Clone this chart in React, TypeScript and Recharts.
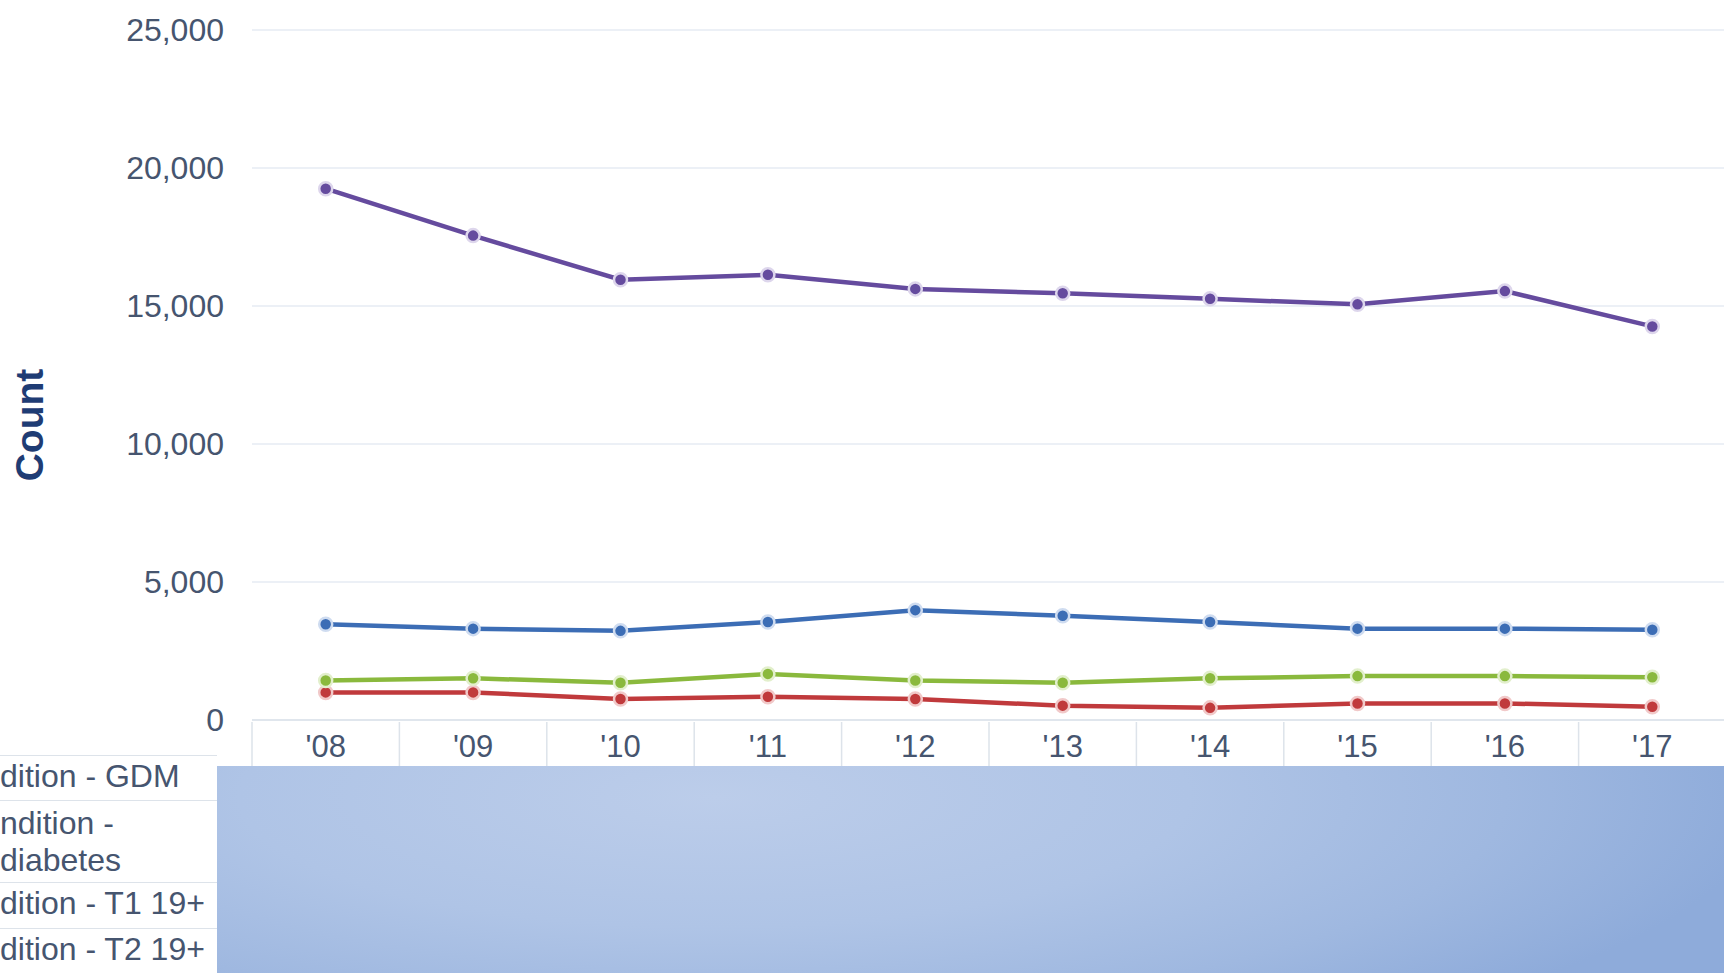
import { LineChart, Line, XAxis, YAxis, CartesianGrid } from 'recharts'

const years = ["'08", "'09", "'10", "'11", "'12", "'13", "'14", "'15", "'16", "'17"]
const gdm = [19250, 17550, 15950, 16130, 15620, 15460, 15260, 15060, 15540, 14260]
const t2 = [3470, 3310, 3230, 3550, 3980, 3780, 3550, 3310, 3310, 3270]
const prediabetes = [1430, 1510, 1350, 1670, 1430, 1350, 1510, 1590, 1590, 1550]
const t1 = [1000, 1000, 760, 840, 760, 520, 440, 600, 600, 480]
const yTicks = [0, 5000, 10000, 15000, 20000, 25000]
// the table on the left is cut by the picture's edge, so only these parts show
const rowLabels = ['dition - GDM', 'ndition -', 'diabetes', 'dition - T1 19+', 'dition - T2 19+']

const data = years.map((year, i) => ({
  year,
  gdm: gdm[i],
  t2: t2[i],
  prediabetes: prediabetes[i],
  t1: t1[i],
}))

const W = 1726
const PLOT_LEFT = 252
const BAND = (W - PLOT_LEFT) / years.length
const FONT = '"Liberation Sans", Arial, sans-serif'
const TEXT = '#46556f'
const CELL_LINE = '#dde3ea'

const XTick = (props: any) => {
  const { x, y, index } = props
  const left = x - BAND / 2
  return (
    <g>
      <line x1={left} x2={left} y1={y + 2} y2={y + 46} stroke={CELL_LINE} strokeWidth={1.5} />
      {index === years.length - 1 && (
        <line x1={left + BAND} x2={left + BAND} y1={y + 2} y2={y + 46} stroke={CELL_LINE} strokeWidth={1.5} />
      )}
      <text x={x} y={y + 37} textAnchor='middle' fill={TEXT} fontSize={31} fontFamily={FONT}>
        {props.payload.value}
      </text>
    </g>
  )
}

const series = [
  { key: 't1', color: '#c03a3c', ring: '#f1c9c9' },
  { key: 'prediabetes', color: '#8ab93d', ring: '#e2efcc' },
  { key: 't2', color: '#3c6db5', ring: '#cfdcf0' },
  { key: 'gdm', color: '#654b9e', ring: '#ddd6ec' },
]

const rowStyle = { position: 'absolute' as const, left: 0, width: 217, borderTop: `1.5px solid ${CELL_LINE}` }
const textStyle = {
  position: 'absolute' as const,
  left: 0,
  whiteSpace: 'nowrap' as const,
  fontFamily: FONT,
  fontSize: 32,
  color: TEXT,
  lineHeight: '37px',
}

export default function App() {
  return (
    <div
      style={{
        position: 'absolute',
        left: 0,
        top: 0,
        width: 1724,
        height: 973,
        overflow: 'hidden',
        background: '#ffffff',
      }}
    >
      <LineChart width={W} height={973} data={data} margin={{ top: 30, right: 0, bottom: 207, left: 0 }}>
        <CartesianGrid vertical={false} stroke='#e6ebf3' strokeWidth={1.5} />
        <XAxis
          dataKey='year'
          height={46}
          tickLine={false}
          tickSize={0}
          tickMargin={0}
          padding={{ left: BAND / 2, right: BAND / 2 }}
          axisLine={{ stroke: CELL_LINE, strokeWidth: 1.5 }}
          tick={<XTick />}
          interval={0}
        />
        <YAxis
          width={PLOT_LEFT}
          domain={[0, 25000]}
          ticks={yTicks}
          tickLine={false}
          axisLine={false}
          tickMargin={22}
          tickFormatter={(v: number) => v.toLocaleString('en-US')}
          tick={{ fill: TEXT, fontSize: 32, fontFamily: FONT }}
          label={{
            content: () => (
              <text
                x={29}
                y={425}
                transform='rotate(-90, 29, 425)'
                textAnchor='middle'
                dominantBaseline='central'
                fill='#1f3c74'
                fontSize={39}
                fontWeight='bold'
                fontFamily={FONT}
              >
                Count
              </text>
            ),
          }}
        />
        {series.map((s) => (
          <Line
            key={s.key}
            dataKey={s.key}
            stroke={s.color}
            strokeWidth={4.5}
            isAnimationActive={false}
            dot={{ r: 6.5, fill: s.color, stroke: s.ring, strokeWidth: 2.5 }}
          />
        ))}
      </LineChart>

      <div style={{ ...rowStyle, top: 755, height: 45 }}>
        <div style={{ ...textStyle, top: 2 }}>{rowLabels[0]}</div>
      </div>
      <div style={{ ...rowStyle, top: 800, height: 82 }}>
        <div style={{ ...textStyle, top: 4 }}>{rowLabels[1]}</div>
        <div style={{ ...textStyle, top: 41 }}>{rowLabels[2]}</div>
      </div>
      <div style={{ ...rowStyle, top: 882, height: 46 }}>
        <div style={{ ...textStyle, top: 2 }}>{rowLabels[3]}</div>
      </div>
      <div style={{ ...rowStyle, top: 928, height: 45 }}>
        <div style={{ ...textStyle, top: 2 }}>{rowLabels[4]}</div>
      </div>

      <div
        style={{
          position: 'absolute',
          left: 217,
          top: 766,
          width: 1507,
          height: 207,
          background:
            'radial-gradient(ellipse 70% 140% at 33% 15%, #bccdea 0%, #afc4e6 45%, #9fb8e0 75%, #8eabda 100%)',
        }}
      />
    </div>
  )
}
